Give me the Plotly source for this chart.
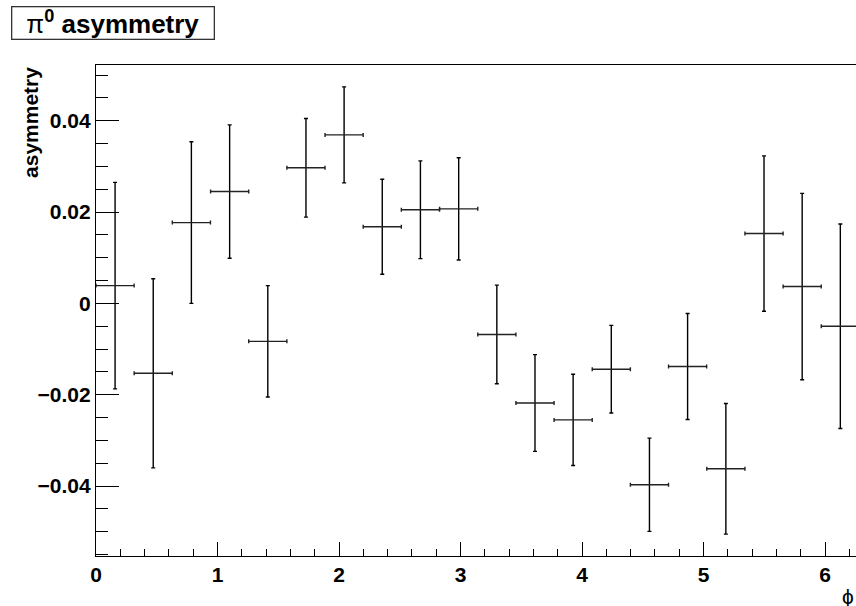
import plotly.graph_objects as go

# bin centres in phi (20 bins over 0..2pi)
phi = [0.157, 0.471, 0.785, 1.100, 1.414, 1.728, 2.042, 2.356, 2.670, 2.985,
       3.299, 3.613, 3.927, 4.241, 4.555, 4.869, 5.184, 5.498, 5.812, 6.126]
phi_halfwidth = [0.157] * 20
asym = [0.0039, -0.0153, 0.0177, 0.0245, -0.0083, 0.0297, 0.0369, 0.0168, 0.0205, 0.0207,
        -0.0068, -0.0218, -0.0255, -0.0144, -0.0397, -0.0138, -0.0362, 0.0153, 0.0037, -0.0050]
asym_err = [0.0226, 0.0207, 0.0177, 0.0146, 0.0122, 0.0108, 0.0105, 0.0104, 0.0107, 0.0112,
            0.0108, 0.0106, 0.0100, 0.0096, 0.0102, 0.0116, 0.0143, 0.0170, 0.0204, 0.0224]

ytick_vals = [-0.04, -0.02, 0, 0.02, 0.04]
ytick_text = ["\u22120.04", "\u22120.02", "0", "0.02", "0.04"]
xtick_vals = [0, 1, 2, 3, 4, 5, 6]
xtick_text = ["0", "1", "2", "3", "4", "5", "6"]

FONT = "Liberation Sans"

fig = go.Figure()
fig.add_trace(go.Scatter(
    x=phi, y=asym, mode="markers",
    marker=dict(size=1, color="black", opacity=0),
    error_x=dict(type="data", array=phi_halfwidth, color="#222222", thickness=1.4, width=2),
    error_y=dict(type="data", array=asym_err, color="black", thickness=1.4, width=2),
    showlegend=False,
))

fig.update_layout(
    width=856, height=606,
    margin=dict(l=96, r=0, t=65, b=50),
    paper_bgcolor="white", plot_bgcolor="white",
    font=dict(family=FONT, color="black", size=21),
    xaxis=dict(
        range=[0, 6.255], showgrid=False, zeroline=False,
        showline=True, linecolor="black", linewidth=1.3, mirror=True,
        ticks="inside", ticklen=14, tickwidth=1.3, tickcolor="black",
        tickvals=xtick_vals, ticktext=xtick_text,
        tickfont=dict(family=FONT, size=21, weight="bold"),
        minor=dict(dtick=0.2, tick0=0, ticks="inside", ticklen=7, tickwidth=1.3, tickcolor="black"),
    ),
    yaxis=dict(
        range=[-0.0553, 0.0522], showgrid=False, zeroline=False,
        showline=True, linecolor="black", linewidth=1.3,
        ticks="inside", ticklen=23, tickwidth=1.3, tickcolor="black",
        tickvals=ytick_vals, ticktext=ytick_text,
        tickfont=dict(family=FONT, size=21, weight="bold"),
        minor=dict(dtick=0.005, tick0=0, ticks="inside", ticklen=12, tickwidth=1.3, tickcolor="black"),
    ),
)

# y axis title, right-aligned to top of axis
fig.add_annotation(
    text="<b>asymmetry</b>", textangle=-90,
    xref="paper", yref="paper", x=-0.0685, y=1.0,
    xanchor="right", yanchor="top", showarrow=False,
    font=dict(family=FONT, size=21, color="black"),
)
# x axis title
fig.add_annotation(
    text="\u03d5", xref="paper", yref="paper", x=0.9995, y=-0.055,
    xanchor="right", yanchor="top", showarrow=False,
    font=dict(family=FONT, size=21, color="black"),
)
# title box
fig.add_annotation(
    text="\u03c0<sup><b>0</b></sup> <b>asymmetry</b>",
    xref="paper", yref="paper", x=-0.1118, y=1.12,
    xanchor="left", yanchor="top", showarrow=False,
    bordercolor="#333333", borderwidth=1.3, bgcolor="white",
    width=201, height=31, borderpad=0, align="center",
    font=dict(family=FONT, size=26, color="black"),
)

fig.write_html("out.html")
